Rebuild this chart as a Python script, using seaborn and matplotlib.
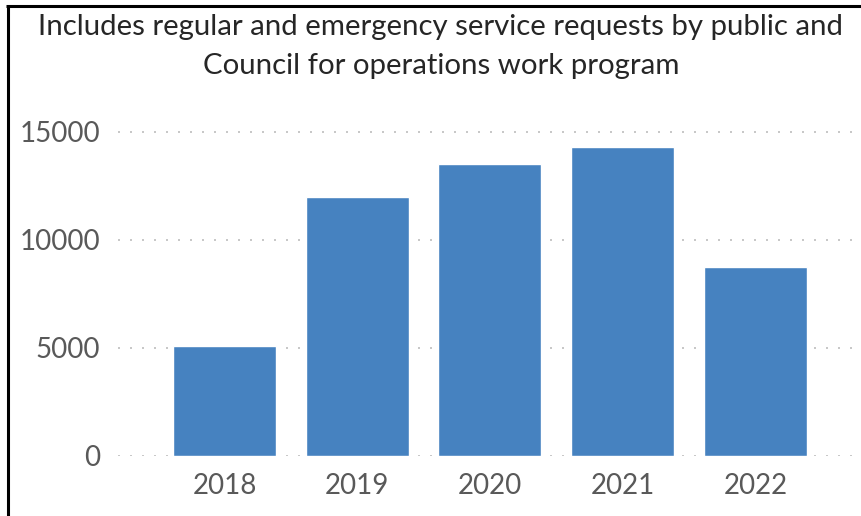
import matplotlib
matplotlib.use("Agg")
import matplotlib.pyplot as plt
import seaborn as sns
import pandas as pd
from matplotlib.lines import Line2D

years = ["2018", "2019", "2020", "2021", "2022"]
requests = [5100, 12000, 13500, 14300, 8750]
yticks = [0, 5000, 10000, 15000]
title_lines = ["Includes regular and emergency service requests by public and",
               "Council for operations work program"]

sns.set_theme(style="white")
plt.rcParams["font.family"] = ["Lato", "DejaVu Sans"]

W, H = 861, 516
fig = plt.figure(figsize=(W / 100, H / 100), dpi=100)
ax_left, ax_right = 118, 855
ax_bottom, ax_top = 456, 121.2
ax = fig.add_axes([ax_left / W, 1 - ax_bottom / H, (ax_right - ax_left) / W, (ax_bottom - ax_top) / H])

df = pd.DataFrame({"year": years, "requests": requests})
sns.barplot(data=df, x="year", y="requests", color="#4682C0", saturation=1,
            width=0.776, ax=ax, zorder=3)

ax.set_ylim(0, 15500)
ax.set_xlim(-0.802, 4.75)
ax.set_yticks(yticks)
ax.set_yticklabels([str(v) for v in yticks])
ax.set_xlabel("")
ax.set_ylabel("")
for s in ax.spines.values():
    s.set_visible(False)
ax.grid(axis="y", color="#C8C8C8", linewidth=1.44, linestyle=(0, (1, 5)), zorder=1)
ax.grid(axis="x", visible=False)
ax.tick_params(axis="both", length=0, labelsize=20, colors="#595959")
ax.tick_params(axis="y", pad=13)
ax.tick_params(axis="x", pad=12)

for line, yc in zip(title_lines, [27, 66]):
    fig.text(441 / W, 1 - yc / H, line, ha="center", va="center", fontsize=21.2,
             color="#262626")

# outer border (left and top edges visible)
fig.add_artist(Line2D([7.5 / W, 7.5 / W], [0, 1 - 5.5 / H], transform=fig.transFigure,
                      color="black", linewidth=2.2, solid_capstyle="butt"))
fig.add_artist(Line2D([6 / W, 1], [1 - 5.5 / H, 1 - 5.5 / H], transform=fig.transFigure,
                      color="black", linewidth=2.2, solid_capstyle="butt"))

fig.savefig("out.png", dpi=100)
